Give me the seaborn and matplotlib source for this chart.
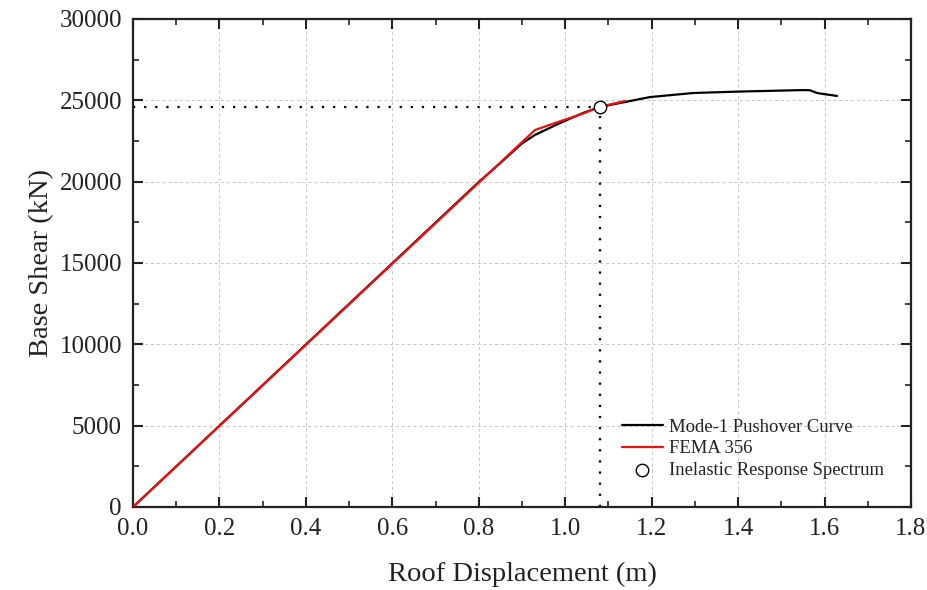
import numpy as np
import pandas as pd
import matplotlib
matplotlib.use("Agg")
import matplotlib.pyplot as plt
import seaborn as sns
from matplotlib.ticker import MultipleLocator, FuncFormatter

# Data
pushover_disp = [0.0, 0.80, 0.85, 0.90, 0.93, 0.981, 1.02, 1.041, 1.08, 1.196, 1.296, 1.404, 1.55, 1.566, 1.583, 1.597, 1.629]
pushover_shear = [0, 19980, 21150, 22350, 22870, 23520, 23980, 24220, 24590, 25200, 25450, 25540, 25630, 25620, 25450, 25390, 25270]

fema_disp = [0.0, 0.930, 0.981, 1.041, 1.080, 1.138]
fema_shear = [0, 23175, 23650, 24180, 24600, 24960]

perf_disp = [1.08]
perf_shear = [24600]

sns.set_theme(style="white")
plt.rcParams['font.family'] = ['Liberation Serif', 'DejaVu Serif']

fig = plt.figure(figsize=(9.27, 5.90), dpi=100)
ax = fig.add_axes([0.1435, 0.1407, 0.8392, 0.8271])

df_p = pd.DataFrame({"d": pushover_disp, "v": pushover_shear})
df_f = pd.DataFrame({"d": fema_disp, "v": fema_shear})

# dotted guide lines
ax.plot([0, perf_disp[0]], [perf_shear[0], perf_shear[0]], color='black', linestyle=(0, (1, 4)), lw=1.6, zorder=2)
ax.plot([perf_disp[0], perf_disp[0]], [0, perf_shear[0]], color='black', linestyle=(0, (1, 4)), lw=1.6, zorder=2)

sns.lineplot(data=df_p, x="d", y="v", ax=ax, color='black', lw=1.6, label='Mode-1 Pushover Curve', zorder=3, sort=False)
sns.lineplot(data=df_f, x="d", y="v", ax=ax, color='#ee1111', lw=1.6, label='FEMA 356', zorder=4, sort=False)
ax.scatter(perf_disp, perf_shear, s=80, facecolor='white', edgecolor='black', linewidth=1.0, zorder=5,
           label='Inelastic Response Spectrum')

ax.set_xlim(0, 1.8)
ax.set_ylim(0, 30000)
ax.xaxis.set_major_locator(MultipleLocator(0.2))
ax.xaxis.set_minor_locator(MultipleLocator(0.1))
ax.yaxis.set_major_locator(MultipleLocator(5000))
ax.yaxis.set_minor_locator(MultipleLocator(2500))
ax.xaxis.set_major_formatter(FuncFormatter(lambda v, p: f"{v:.1f}"))
ax.yaxis.set_major_formatter(FuncFormatter(lambda v, p: f"{int(round(v))}"))

ax.grid(True, which='major', color='#c4c4c4', linestyle=(0, (3, 3)), lw=0.7)
ax.set_axisbelow(True)

for s in ax.spines.values():
    s.set_color('#222222')
    s.set_linewidth(1.6)

ax.tick_params(which='both', direction='in', top=True, right=True, bottom=True, left=True,
               colors='#222222', labelcolor='#222222')
ax.tick_params(which='major', length=7, width=1.5, labelsize=18, pad=8)
ax.tick_params(which='minor', length=4, width=1.2)

ax.set_xlabel('Roof Displacement (m)', fontsize=20.5, color='#222222', labelpad=16)
ax.set_ylabel('Base Shear (kN)', fontsize=20.5, color='#222222', labelpad=4)

leg = ax.legend(loc='upper left', bbox_to_anchor=(0.6285, 0.181), frameon=False, fontsize=13.4,
                handlelength=2.2, handletextpad=0.35, labelspacing=0.25, borderpad=0, borderaxespad=0)
for t in leg.get_texts():
    t.set_color('#222222')

fig.savefig('out.png', dpi=100)
